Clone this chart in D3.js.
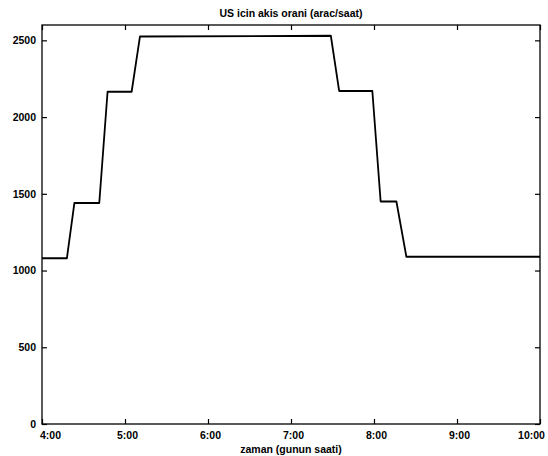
<!DOCTYPE html>
<html>
<head>
<meta charset="utf-8">
<script src="https://cdn.jsdelivr.net/npm/d3@7"></script>
<style>
  html, body { margin: 0; padding: 0; background: #fff; }
  svg { display: block; }
  text { font-family: "Liberation Sans", Arial, sans-serif; font-weight: bold; fill: #000; }
</style>
</head>
<body>
<script>
// Data (time in hours, flow in vehicles/hour)
const times  = [4.0, 4.30, 4.39, 4.69, 4.79, 5.08, 5.18, 7.48, 7.58, 7.98, 8.08, 8.27, 8.39, 10.0];
const flows  = [1080, 1080, 1440, 1440, 2165, 2165, 2525, 2530, 2170, 2170, 1450, 1450, 1090, 1090];
const xTicks = [4, 5, 6, 7, 8, 9, 10];
const xTickLabels = ["4:00", "5:00", "6:00", "7:00", "8:00", "9:00", "10:00"];
const yTicks = [0, 500, 1000, 1500, 2000, 2500];
const titleText = "US icin akis orani (arac/saat)";
const xLabelText = "zaman (gunun saati)";

const W = 548, H = 456;
const m = { left: 42, right: 8, top: 25, bottom: 32 };
const iw = W - m.left - m.right, ih = H - m.top - m.bottom;

const svg = d3.select("body").append("svg").attr("width", W).attr("height", H);
const g = svg.append("g").attr("transform", `translate(${m.left},${m.top})`);

const x = d3.scaleLinear().domain([4, 10]).range([0, iw]);
const y = d3.scaleLinear().domain([0, 2600]).range([ih, 0]);

// Box
g.append("rect").attr("x", 0).attr("y", 0).attr("width", iw).attr("height", ih)
  .attr("fill", "none").attr("stroke", "#000").attr("stroke-width", 1.3);

const fmt = (d) => xTickLabels[xTicks.indexOf(d)];

const xb = g.append("g").attr("transform", `translate(0,${ih})`)
  .call(d3.axisBottom(x).tickValues(xTicks).tickFormat(fmt).tickSizeInner(-5).tickSizeOuter(0).tickPadding(8));
const xt = g.append("g")
  .call(d3.axisTop(x).tickValues(xTicks).tickFormat("").tickSizeInner(-5).tickSizeOuter(0));
const yl = g.append("g")
  .call(d3.axisLeft(y).tickValues(yTicks).tickFormat(d3.format("d")).tickSizeInner(-5).tickSizeOuter(0).tickPadding(6));
const yr = g.append("g").attr("transform", `translate(${iw},0)`)
  .call(d3.axisRight(y).tickValues(yTicks).tickFormat("").tickSizeInner(-5).tickSizeOuter(0));

[xb, xt, yl, yr].forEach(a => {
  a.select(".domain").remove();
  a.selectAll(".tick line").attr("stroke", "#000").attr("stroke-width", 1.2);
  a.selectAll(".tick text").style("font-size", "10.5px").attr("fill", "#000")
    .style("font-family", "'Liberation Sans', Arial, sans-serif").style("font-weight", "bold");
});
xb.selectAll(".tick text").attr("dx", (d) => d === 4 ? 8 : (d === 10 ? -9 : 2));

// Line
const line = d3.line().x((d, i) => x(times[i])).y((d, i) => y(flows[i]));
g.append("path").datum(flows).attr("d", line)
  .attr("fill", "none").attr("stroke", "#000").attr("stroke-width", 1.8)
  .attr("stroke-linejoin", "round");

// Title and label
svg.append("text").attr("x", m.left + iw / 2).attr("y", 17).attr("text-anchor", "middle")
  .style("font-size", "10.5px").text(titleText);
svg.append("text").attr("x", m.left + iw / 2).attr("y", 453).attr("text-anchor", "middle")
  .style("font-size", "10.5px").text(xLabelText);
</script>
</body>
</html>
